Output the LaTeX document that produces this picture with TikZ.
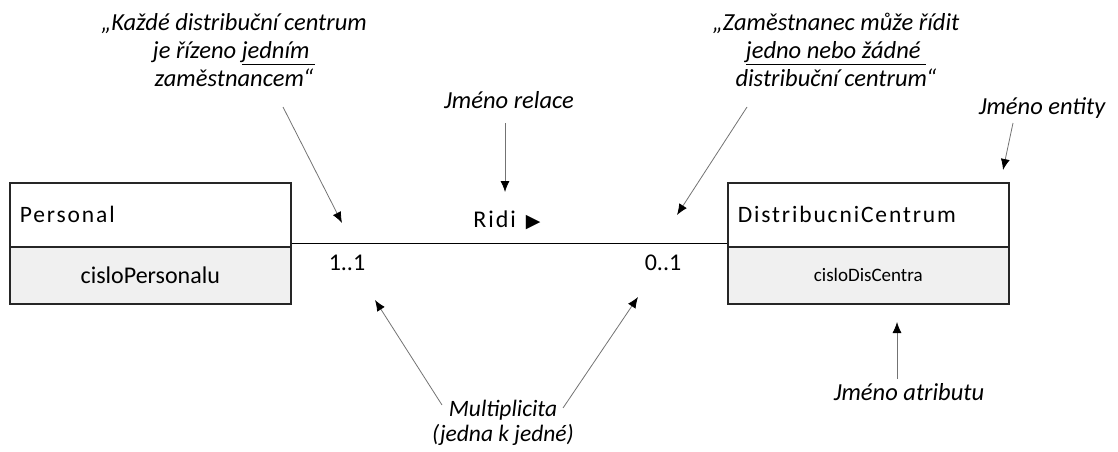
\documentclass[tikz,border=0pt]{standalone}
\usepackage{fontspec}
\setmainfont{Carlito}
\newfontfamily\spacedfont[LetterSpace=8]{Carlito}
\newfontfamily\dejavu{DejaVu Sans}
\usetikzlibrary{arrows.meta,calc}
\begin{document}
\begin{tikzpicture}[x=1pt,y=-1pt,
  every node/.style={font=\fontsize{24}{28}\selectfont},
  lbl/.style={font=\fontsize{24.5}{28}\selectfont\itshape, align=center, inner sep=0pt},
  hdr/.style={draw=black!85, line width=1.6pt, minimum width=281pt, minimum height=64pt,
    inner sep=0pt, inner xsep=10pt, text width=261pt, align=left, anchor=north west,
    font=\fontsize{23.5}{28}\spacedfont},
  attr/.style={draw=black!85, fill=gray!12, line width=1.6pt, minimum width=281pt, minimum height=57pt,
    inner sep=0pt, anchor=north west},
  rel/.style={draw=black, line width=1.3pt},
  ann/.style={draw=black!55, line width=0.8pt, -{Latex[length=11pt,width=9pt,black]}},
  mult/.style={inner sep=0pt}
]
\useasboundingbox (0,0) rectangle (1118,452);

% entities
\node[hdr] (ph) at (9,182) {Personal};
\node[attr] (pa) at (9,246) {cisloPersonalu};
\node[hdr] (dh) at (727,182) {DistribucniCentrum};
\node[attr, font=\fontsize{19}{24}\selectfont] (da) at (727,246) {cisloDisCentra};

% relationship
\draw[rel] ($(ph.south east)+(0,-4)$) -- ($(dh.south west)+(0,-4)$);
\node[inner sep=0pt] (rn) at (507,220) {{\spacedfont Ridi}\hspace{10pt}{\dejavu\fontsize{19}{19}\selectfont ▶}};
\node[mult] (m1) at (347,263) {1..1};
\node[mult] (m2) at (663,263) {0..1};

% annotations
\node[lbl] (q1) at (234,50) {„Každé distribuční centrum\\ je řízeno \underline{jedním\ }\\ zaměstnancem“};
\node[lbl] (q2) at (836,50) {„Zaměstnanec může řídit\\ \underline{jedno nebo žádné\ }\\ distribuční centrum“};
\node[lbl] (jr) at (509,100) {Jméno relace};
\node[lbl] (je) at (1042,108) {Jméno entity};
\node[lbl] (ja) at (909,392) {Jméno atributu};
\node[lbl, font=\fontsize{23.5}{24.5}\selectfont\itshape] (mu) at (503,423) {Multiplicita\\(jedna k jedné)};

\coordinate (a1s) at (283,107); \coordinate (a1e) at (342,223);
\coordinate (a2s) at (505,123); \coordinate (a2e) at (505,192);
\coordinate (a3s) at (747,107); \coordinate (a3e) at (677,215);
\coordinate (a4s) at (1013,123); \coordinate (a4e) at (1003,170);
\coordinate (a5s) at (442,405); \coordinate (a5e) at (375,300);
\coordinate (a6s) at (563,408); \coordinate (a6e) at (638,297);
\coordinate (a7s) at (897,379); \coordinate (a7e) at (897,322);

\draw[ann] (a1s) -- (a1e);
\draw[ann] (a2s) -- (a2e);
\draw[ann] (a3s) -- (a3e);
\draw[ann] (a4s) -- (a4e);
\draw[ann] (a5s) -- (a5e);
\draw[ann] (a6s) -- (a6e);
\draw[ann] (a7s) -- (a7e);
\end{tikzpicture}
\end{document}
